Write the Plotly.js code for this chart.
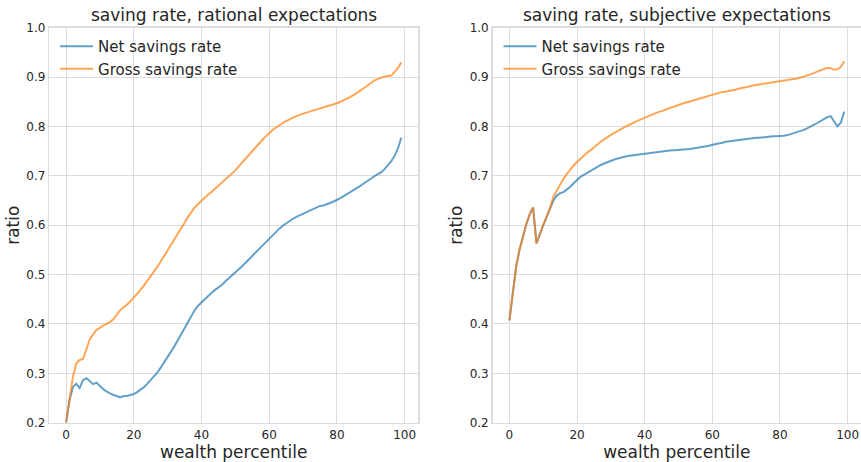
<!DOCTYPE html>
<html>
<head>
<meta charset="utf-8">
<script src="https://cdn.plot.ly/plotly-3.0.1.min.js"></script>
<style>html,body{margin:0;padding:0;background:#fff;}#chart{width:861px;height:462px;}</style>
</head>
<body>
<div id="chart"></div>
<script>
// wealth percentiles 0..99
const percentile = Array.from({length: 100}, (_, i) => i);

// Left panel: rational expectations
const netRational = [
0.200,0.245,0.272,0.279,0.270,0.286,0.290,0.284,0.278,0.281,
0.274,0.268,0.263,0.259,0.256,0.254,0.251,0.254,0.254,0.256,
0.258,0.262,0.267,0.272,0.279,0.286,0.293,0.302,0.312,0.322,
0.333,0.344,0.355,0.367,0.380,0.392,0.405,0.417,0.428,0.437,
0.444,0.451,0.457,0.463,0.469,0.474,0.479,0.486,0.492,0.498,
0.503,0.510,0.517,0.524,0.531,0.538,0.545,0.552,0.560,0.567,
0.574,0.581,0.587,0.593,0.599,0.604,0.609,0.613,0.617,0.620,
0.624,0.627,0.630,0.633,0.636,0.639,0.640,0.642,0.645,0.648,
0.651,0.655,0.659,0.663,0.667,0.671,0.676,0.680,0.685,0.689,
0.694,0.699,0.703,0.707,0.713,0.720,0.729,0.740,0.755,0.777];

const grossRational = [
0.200,0.250,0.292,0.320,0.327,0.329,0.350,0.369,0.379,0.388,
0.392,0.397,0.400,0.404,0.410,0.419,0.428,0.434,0.439,0.446,
0.453,0.461,0.469,0.478,0.487,0.497,0.506,0.516,0.527,0.538,
0.548,0.559,0.570,0.582,0.594,0.605,0.617,0.627,0.636,0.643,
0.650,0.656,0.662,0.668,0.674,0.680,0.686,0.692,0.698,0.704,
0.711,0.719,0.727,0.735,0.742,0.750,0.758,0.765,0.773,0.780,
0.787,0.793,0.798,0.803,0.807,0.811,0.815,0.818,0.821,0.824,
0.826,0.828,0.830,0.832,0.834,0.836,0.838,0.840,0.842,0.844,
0.847,0.850,0.853,0.856,0.860,0.864,0.868,0.873,0.878,0.883,
0.888,0.893,0.896,0.899,0.901,0.902,0.903,0.910,0.918,0.930];

// Right panel: subjective expectations
const netSubjective = [
0.407,0.468,0.516,0.551,0.578,0.602,0.622,0.636,0.563,0.583,
0.600,0.617,0.634,0.650,0.660,0.665,0.667,0.672,0.678,0.685,
0.692,0.698,0.702,0.706,0.710,0.715,0.719,0.722,0.725,0.728,
0.730,0.733,0.735,0.737,0.739,0.740,0.741,0.742,0.743,0.744,
0.745,0.746,0.747,0.748,0.749,0.750,0.751,0.751,0.752,0.752,
0.753,0.753,0.754,0.754,0.755,0.756,0.757,0.758,0.760,0.761,
0.763,0.764,0.766,0.767,0.769,0.770,0.771,0.772,0.773,0.774,
0.775,0.776,0.776,0.777,0.777,0.778,0.779,0.779,0.780,0.780,
0.780,0.781,0.782,0.784,0.786,0.788,0.791,0.793,0.796,0.799,
0.803,0.807,0.811,0.815,0.819,0.821,0.810,0.800,0.808,0.830];

const grossSubjective = [
0.407,0.468,0.516,0.551,0.578,0.602,0.622,0.636,0.563,0.583,
0.600,0.617,0.634,0.658,0.671,0.683,0.694,0.704,0.713,0.721,
0.728,0.735,0.741,0.747,0.752,0.758,0.764,0.769,0.774,0.779,
0.783,0.787,0.791,0.795,0.798,0.802,0.805,0.809,0.812,0.815,
0.818,0.821,0.824,0.826,0.829,0.831,0.834,0.836,0.839,0.841,
0.844,0.846,0.848,0.850,0.853,0.855,0.857,0.859,0.861,0.863,
0.865,0.866,0.868,0.870,0.871,0.872,0.874,0.875,0.877,0.878,
0.880,0.881,0.883,0.884,0.886,0.887,0.888,0.889,0.890,0.891,
0.891,0.892,0.893,0.894,0.896,0.897,0.899,0.901,0.903,0.905,
0.908,0.911,0.914,0.917,0.919,0.918,0.915,0.916,0.921,0.932];

const seriesNames = ['Net savings rate', 'Gross savings rate'];
const panelTitles = ['saving rate, rational expectations', 'saving rate, subjective expectations'];
const xTickVals = [0, 20, 40, 60, 80, 100];
const yTickVals = [0.2, 0.3, 0.4, 0.5, 0.6, 0.7, 0.8, 0.9, 1.0];
const xLabel = 'wealth percentile';
const yLabel = 'ratio';

const BLUE = '#1f77b4', ORANGE = '#ff7f0e';
const FONT = 'DejaVu Sans, sans-serif';
const TXT = '#262626';
const GRID = '#dcdcdc';

function tr(y, name, color, xa, ya, leg) {
  return {x: percentile, y: y, name: name, type: 'scatter', mode: 'lines',
    line: {color: color, width: 2}, opacity: 0.7, xaxis: xa, yaxis: ya,
    legend: leg, legendgroup: leg + name, hoverinfo: 'x+y'};
}

const data = [
  tr(netRational, seriesNames[0], BLUE, 'x', 'y', 'legend'),
  tr(grossRational, seriesNames[1], ORANGE, 'x', 'y', 'legend'),
  tr(netSubjective, seriesNames[0], BLUE, 'x2', 'y2', 'legend2'),
  tr(grossSubjective, seriesNames[1], ORANGE, 'x2', 'y2', 'legend2')
];

function xaxis(dom, anchor) {
  return {domain: dom, anchor: anchor, range: [-4.95, 103.95], tickvals: xTickVals,
    showgrid: true, gridcolor: GRID, gridwidth: 1, zeroline: false,
    showline: true, linecolor: GRID, linewidth: 1.5, mirror: true, ticks: '',
    tickfont: {family: FONT, size: 12, color: TXT}, automargin: false,
    title: {text: xLabel, font: {family: FONT, size: 17, color: TXT}, standoff: 1}};
}
function yaxis(anchor) {
  return {domain: [0.0851, 0.940], anchor: anchor, range: [0.2, 1.0], tickvals: yTickVals,
    tickformat: '.1f',
    showgrid: true, gridcolor: GRID, gridwidth: 1, zeroline: false,
    showline: true, linecolor: GRID, linewidth: 1.5, mirror: true, ticks: '',
    tickfont: {family: FONT, size: 12, color: TXT}, automargin: false,
    title: {text: yLabel, font: {family: FONT, size: 17, color: TXT}, standoff: 2}};
}

const legendBase = {bgcolor: 'rgba(0,0,0,0)', borderwidth: 0,
  font: {family: FONT, size: 15, color: TXT}, tracegroupgap: 0, itemwidth: 33,
  xanchor: 'left', yanchor: 'top', y: 0.935};

const layout = {
  width: 861, height: 462,
  margin: {l: 0, r: 0, t: 0, b: 0},
  paper_bgcolor: '#fff', plot_bgcolor: '#fff',
  font: {family: FONT, color: TXT},
  xaxis: xaxis([0.0573, 0.4855], 'y'),
  yaxis: yaxis('x'),
  xaxis2: xaxis([0.5722, 1.0], 'y2'),
  yaxis2: yaxis('x2'),
  legend: Object.assign({}, legendBase, {x: 0.064}),
  legend2: Object.assign({}, legendBase, {x: 0.579}),
  annotations: [
    {text: panelTitles[0], xref: 'paper', yref: 'paper', x: (0.0573 + 0.4855) / 2, y: 1 - 15 / 462,
     xanchor: 'center', yanchor: 'middle', showarrow: false, font: {family: FONT, size: 17, color: TXT}},
    {text: panelTitles[1], xref: 'paper', yref: 'paper', x: (0.5722 + 1.0) / 2, y: 1 - 15 / 462,
     xanchor: 'center', yanchor: 'middle', showarrow: false, font: {family: FONT, size: 17, color: TXT}}
  ],
  showlegend: true
};

Plotly.newPlot('chart', data, layout, {displayModeBar: false, staticPlot: true});
</script>
</body>
</html>
